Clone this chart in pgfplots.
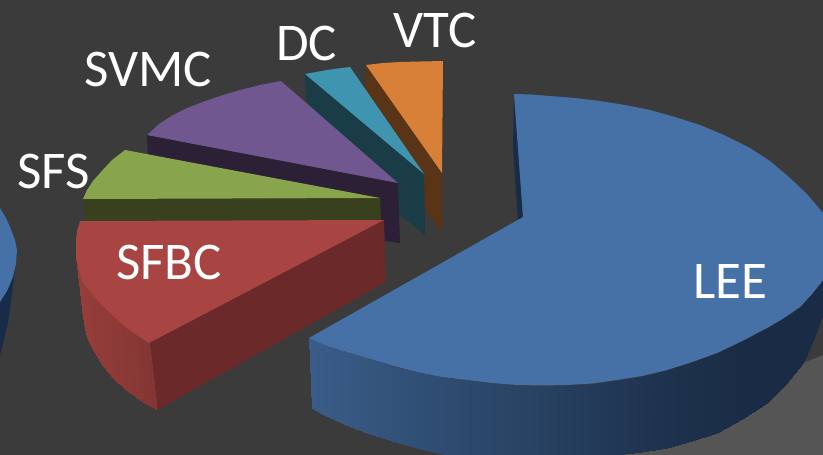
\documentclass[border=0pt]{standalone}
\usepackage{pgfplots}
\pgfplotsset{compat=1.18}
\usepackage{fontspec}
\setmainfont{Carlito}
\definecolor{bgdark}{RGB}{59,59,59}
\definecolor{bglight}{RGB}{85,85,85}
\definecolor{leetop}{RGB}{69,113,167}
\definecolor{leedeep}{RGB}{23,44,72}
\definecolor{sfbctop}{RGB}{168,68,66}
\definecolor{sfbcdeep}{RGB}{107,42,41}
\definecolor{sfstop}{RGB}{136,165,78}
\definecolor{sfsdeep}{RGB}{57,64,29}
\definecolor{svmctop}{RGB}{113,87,144}
\definecolor{svmcdeep}{RGB}{43,32,54}
\definecolor{dctop}{RGB}{63,148,175}
\definecolor{dcdeep}{RGB}{25,60,71}
\definecolor{vtctop}{RGB}{216,127,56}
\definecolor{vtcdeep}{RGB}{90,52,22}
\newcommand{\pielabel}[3]{\node[anchor=base west,inner sep=0pt,text=white,font=\fontsize{53}{53}\selectfont] at (axis cs:#1,#2) {#3};}
\begin{document}
\begin{tikzpicture}
\begin{axis}[
  width=823pt, height=455pt, scale only axis,
  xmin=0, xmax=823, ymin=0, ymax=455, y dir=reverse,
  axis lines=none, clip=true,
  axis background/.style={fill=bgdark},
  point meta min=0, point meta max=1,
  colormap={leeside}{rgb255(0cm)=(58,92,136); rgb255(37cm)=(42,70,104); rgb255(66cm)=(31,52,80); rgb255(85cm)=(26,44,69); rgb255(100cm)=(26,44,69)},
  colormap={sfbcside}{rgb255(0cm)=(150,62,58); rgb255(100cm)=(132,54,52)},
]
% floor patch in the lower right corner
\addplot[fill=bglight,draw=none] coordinates {(823,355)(803,363)(620,455)(823,455)} -- cycle;

% the neighbouring pie showing at the left edge
\addplot[fill=leedeep,draw=none] coordinates {(0,290)(17,250)(16,263)(8,323)(0,355)} -- cycle;
\addplot[fill=leetop,draw=none] coordinates {(0,208)(6,218)(10,227)(15,240)(17,250)(16,264)(13,277)(7,291)(0,302)} -- cycle;

% VTC
\addplot[fill=vtcdeep,draw=none] coordinates {(366,65)(442,173)(442,232)(424,208)(366,90)} -- cycle;
\addplot[fill=vtctop,draw=none] coordinates {(366,65)(383,63)(400,62)(420,61.5)(443,61)(442,173)} -- cycle;

% DC
\addplot[fill=dcdeep,draw=none] coordinates {(305,74)(424,174)(425,235)(400,215)(306,100)} -- cycle;
\addplot[fill=dctop,draw=none] coordinates {(305,74)(316,72)(327,70)(338,68.5)(350,67)(424,174)} -- cycle;

% SVMC
\addplot[fill=svmcdeep,draw=none] coordinates {(147,135)(398,183)(400,243)(385,241)(148,155)} -- cycle;
\addplot[fill=svmctop,draw=none] coordinates {(147,135)(159,124)(173,115)(186,108.5)(200,103)(220,96)(240,90)(260,85)(281,81)(398,183)} -- cycle;

% SFS
\addplot[fill=sfsdeep,draw=none] coordinates {(83,199)(380,198)(381,221)(86,222)} -- cycle;
\addplot[fill=sfstop,draw=none] coordinates {(83,199)(87,190)(93,181)(100,173)(112,160)(125,150)(380,198)} -- cycle;

% SFBC
\addplot[fill=sfbcdeep,draw=none] coordinates {(384,220)(386,282)(157,410)(149,343)} -- cycle;
\addplot[surf,colormap name=sfbcside,shader=interp,mesh/rows=2,point meta=explicit]
  table[x=x,y=y,meta=c] {
x y c
76 257 0
79 270 0.05
83 283 0.12
91 293 0.2
100 303 0.3
111 314 0.45
123 325 0.6
135 334 0.8
149 343 1
83 317 0
85 329 0.05
88 340 0.12
95 353 0.2
103 366 0.3
113 378 0.45
125 389 0.6
140 400 0.8
157 410 1
};
\addplot[fill=sfbctop,draw=none] coordinates {(80,221)(77,231)(76,240)(76,257)(79,270)(83,283)(91,293)(100,303)(111,314)(123,325)(135,334)(149,343)(384,220)} -- cycle;

% LEE
\addplot[fill=leedeep,draw=none] coordinates {(514,94)(513,147)(518,221)(523,217)} -- cycle;
\addplot[surf,colormap name=leeside,shader=interp,mesh/rows=2,point meta=explicit]
  table[x=x,y=y,meta=c] {
x y c
309 338 0
320 343 0.02
333 348 0.05
350 353 0.08
367 358 0.11
392 365.5 0.16
417 372 0.21
442 377 0.26
467 380 0.31
492 383 0.36
517 385 0.40
542 385.5 0.45
567 385 0.50
592 383.5 0.55
617 380 0.60
642 376 0.65
667 370 0.70
692 362 0.75
717 353 0.79
742 341 0.84
767 328 0.89
784 318 0.92
800 307 0.96
812 294 0.98
823 280 1
312 408 0
322 414 0.02
335 420 0.05
351 427 0.08
367 433 0.11
392 441 0.16
417 448 0.21
442 454 0.26
467 458 0.31
492 462 0.36
517 465 0.40
542 464 0.45
567 462 0.50
592 459 0.55
617 455 0.60
642 452 0.65
667 448 0.70
692 441 0.75
717 433 0.79
742 419 0.84
767 403 0.89
786 384 0.92
803 363 0.96
814 338 0.98
823 313 1
};
\addplot[fill=leetop,draw=none] coordinates {(514,94)(532,94.5)(550,96)(575,98)(600,101)(625,105)(650,110)(675,117)(700,125)(725,135.5)(750,148)(770,161)(790,178)(807,194)(823,213)
 (823,280)(812,294)(800,307)(784,318)(767,328)(742,341)(717,353)(692,362)(667,370)(642,376)(617,380)(592,383.5)(567,385)(542,385.5)(517,385)(492,383)(467,380)(442,377)(417,372)(392,365.5)(367,358)(350,353)(333,348)(320,343)(309,338)(523,217)} -- cycle;

% slice names
\pielabel{693}{298}{LEE}
\pielabel{116}{279}{SFBC}
\pielabel{17}{188}{SFS}
\pielabel{84}{86}{SVMC}
\pielabel{276}{60}{DC}
\pielabel{393}{47}{VTC}
\end{axis}
\end{tikzpicture}
\end{document}
